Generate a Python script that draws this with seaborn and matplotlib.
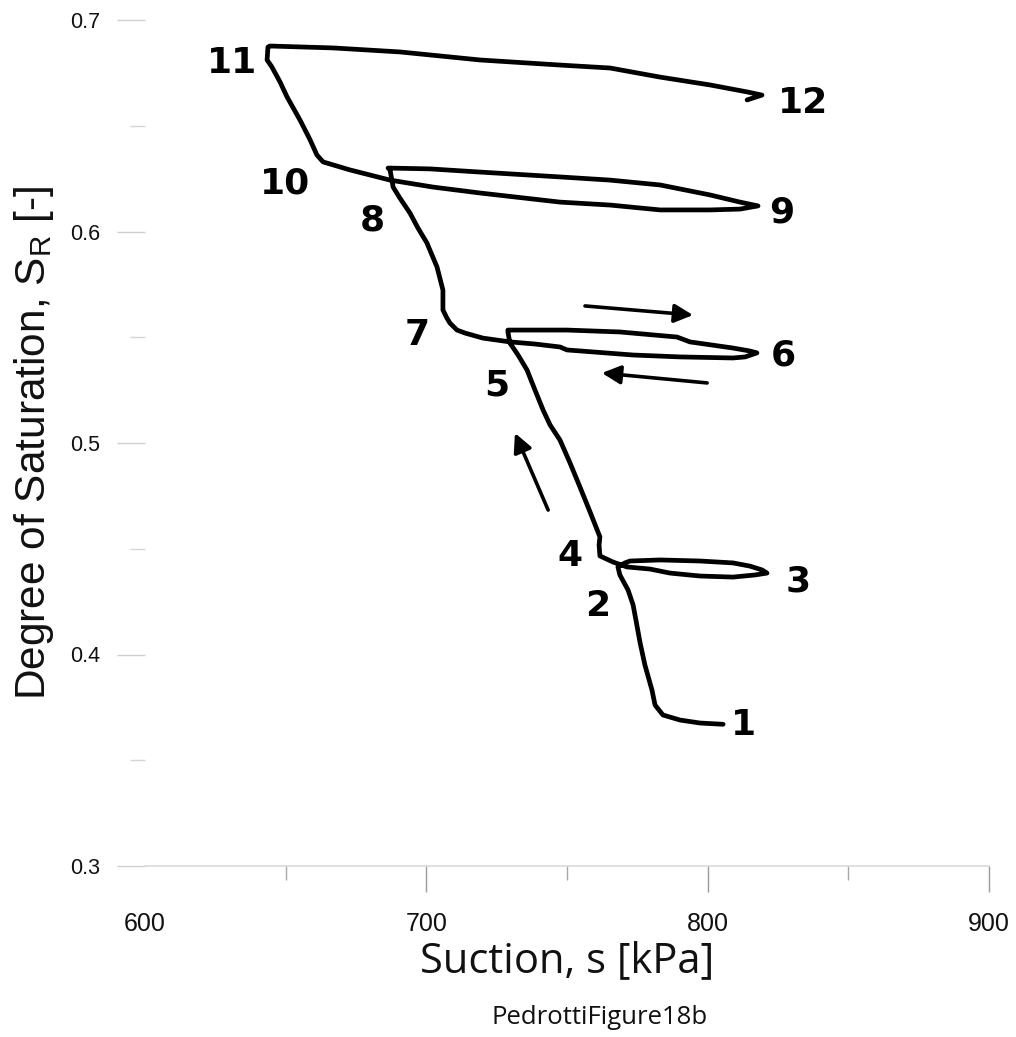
import numpy as np
import pandas as pd
import matplotlib
matplotlib.use("Agg")
import matplotlib.pyplot as plt
from matplotlib.ticker import MultipleLocator
import seaborn as sns

# ---------------- data ----------------
# path 1 -> 2
s_1_2 = [805.5, 797.3, 790.2, 784.1, 781.3, 780.2, 777.7, 776.0, 774.5, 773.5, 771.7, 768.8, 768.1, 770.6]
sr_1_2 = [0.367, 0.3676, 0.369, 0.3714, 0.3761, 0.3832, 0.395, 0.4054, 0.4163, 0.4234, 0.4305, 0.4376, 0.4414, 0.4433]
# loop 2 -> 3 -> 4
s_2_3 = [772.4, 783.1, 797.3, 809.0, 815.0, 819.3, 821.1]
sr_2_3 = [0.4442, 0.4447, 0.4442, 0.4433, 0.4418, 0.4400, 0.4385]
s_3_4 = [816.8, 809.0, 797.3, 786.6, 779.5, 771.3, 766.4, 761.7]
sr_3_4 = [0.4376, 0.4366, 0.4371, 0.4385, 0.4404, 0.4414, 0.4437, 0.4466]
# 4 -> 5
s_4_5 = [761.4, 761.7, 758.2, 754.6, 751.1, 747.5, 744.0, 741.5, 738.6, 735.8, 732.6, 729.7, 729.0]
sr_4_5 = [0.4518, 0.4556, 0.4674, 0.4792, 0.4905, 0.5014, 0.5085, 0.5156, 0.5251, 0.5345, 0.5416, 0.5473, 0.5525]
# loop 5 -> 6 -> 7
s_5_6 = [729.0, 740.4, 750.0, 768.8, 789.1, 793.7, 809.0, 815.0, 817.5]
sr_5_6 = [0.5534, 0.5534, 0.5534, 0.5525, 0.5501, 0.5478, 0.5449, 0.5435, 0.5426]
s_6_7 = [813.3, 809.0, 790.2, 773.5, 750.0, 747.5, 738.6, 729.7, 720.1, 713.7, 710.9, 708.4]
sr_6_7 = [0.5407, 0.5402, 0.5407, 0.5416, 0.5440, 0.5454, 0.5468, 0.5478, 0.5496, 0.5520, 0.5534, 0.5567]
# 7 -> 8
s_7_8 = [707.3, 705.9, 705.9, 703.8, 700.2, 697.0, 694.2, 690.6, 688.2, 687.1]
sr_7_8 = [0.5591, 0.5629, 0.5723, 0.5832, 0.5946, 0.6017, 0.6087, 0.6158, 0.6210, 0.6291]
# loop 8 -> 9 -> 10
s_8_9 = [686.4, 701.3, 719.1, 747.5, 765.3, 783.1, 800.8, 811.5, 817.9]
sr_8_9 = [0.6300, 0.6296, 0.6281, 0.6258, 0.6243, 0.6220, 0.6173, 0.6139, 0.6121]
s_9_10 = [811.5, 800.8, 783.1, 765.3, 747.5, 719.1, 702.4, 687.1, 672.9, 663.3]
sr_9_10 = [0.6106, 0.6102, 0.6102, 0.6125, 0.6139, 0.6182, 0.6210, 0.6243, 0.6291, 0.6329]
# 10 -> 11
s_10_11 = [661.1, 658.7, 655.1, 650.5, 648.0, 645.1, 643.4, 643.7]
sr_10_11 = [0.6362, 0.6433, 0.6527, 0.6636, 0.6707, 0.6778, 0.6811, 0.6872]
# 11 -> 12
s_11_12 = [644.4, 666.8, 690.6, 719.1, 747.5, 765.3, 783.1, 800.8, 814.0, 819.3, 814.0]
sr_11_12 = [0.6877, 0.6868, 0.6849, 0.6811, 0.6787, 0.6773, 0.6730, 0.6693, 0.6660, 0.6645, 0.6622]

# stage labels
stage_labels = ["1", "2", "3", "4", "5", "6", "7", "8", "9", "10", "11", "12"]
stage_s = [812.6, 761.0, 832.1, 751.1, 725.1, 826.8, 696.7, 680.7, 826.4, 649.8, 630.9, 833.9]
stage_sr = [0.3667, 0.4229, 0.4343, 0.4466, 0.5274, 0.5416, 0.5511, 0.6054, 0.6092, 0.6229, 0.6797, 0.6608]

# direction arrows: (start s, start sr, end s, end sr)
arrow_start_s = [756.4, 799.8, 743.3]
arrow_start_sr = [0.5648, 0.5284, 0.4683]
arrow_end_s = [794.8, 762.4, 731.5]
arrow_end_sr = [0.5605, 0.5331, 0.5047]

x_ticks = [600, 700, 800, 900]
y_ticks = [0.3, 0.4, 0.5, 0.6, 0.7]

# ---------------- build table ----------------
s_all = (s_1_2 + s_2_3 + s_3_4 + s_4_5 + s_5_6 + s_6_7 + s_7_8 +
         s_8_9 + s_9_10 + s_10_11 + s_11_12)
sr_all = (sr_1_2 + sr_2_3 + sr_3_4 + sr_4_5 + sr_5_6 + sr_6_7 + sr_7_8 +
          sr_8_9 + sr_9_10 + sr_10_11 + sr_11_12)
df = pd.DataFrame({"suction": s_all, "sat": sr_all})

# ---------------- plot ----------------
sns.set_style("white")
plt.rcParams["font.family"] = ["Liberation Sans", "DejaVu Sans"]

W, H = 1016, 1037
fig = plt.figure(figsize=(W / 100, H / 100), dpi=100)
ax = fig.add_axes([145 / W, (H - 866) / H, 844 / W, 846 / H])

sns.lineplot(data=df, x="suction", y="sat", sort=False, estimator=None,
             color="black", lw=3.4, ax=ax, solid_joinstyle="round",
             solid_capstyle="round")

ax.set_xlim(600, 900)
ax.set_ylim(0.3, 0.7)

for sp in ["top", "right", "left"]:
    ax.spines[sp].set_visible(False)
ax.spines["bottom"].set_color("#d9d9d9")
ax.spines["bottom"].set_linewidth(1.2)

ax.xaxis.set_major_locator(plt.FixedLocator(x_ticks))
ax.xaxis.set_minor_locator(MultipleLocator(50))
ax.yaxis.set_major_locator(plt.FixedLocator(y_ticks))
ax.yaxis.set_minor_locator(MultipleLocator(0.05))
ax.set_xticklabels([str(v) for v in x_ticks])
ax.set_yticklabels([f"{v:.1f}" for v in y_ticks])

ax.tick_params(axis="x", which="both", bottom=True, top=False)
ax.tick_params(axis="y", which="both", left=True, right=False)
ax.tick_params(axis="x", which="major", direction="out", length=19, width=1,
               color="#9a9a9a", labelsize=18, pad=14, labelcolor="#111111")
ax.tick_params(axis="x", which="minor", direction="out", length=10, width=1,
               color="#a8a8a8")
ax.tick_params(axis="y", which="major", direction="out", length=20, width=1,
               color="#cfcfcf", labelsize=15.5, pad=12, labelcolor="#111111")
ax.tick_params(axis="y", which="minor", direction="out", length=11, width=1,
               color="#d5d5d5")
ax.xaxis.get_major_ticks()[0].tick1line.set_visible(False)
ax.yaxis.get_major_ticks()[0].tick1line.set_color("#d9d9d9")

ax.set_xlabel("Suction, s [kPa]", fontsize=30, family=["Open Sans", "DejaVu Sans"],
              color="#111111")
ax.xaxis.set_label_coords(0.5, -0.088)
ax.set_ylabel("Degree of Saturation, S$_\\mathregular{R}$ [-]", fontsize=30.5,
              color="#111111")
ax.yaxis.set_label_coords(-0.106, 0.5)

for lab, xs, ys in zip(stage_labels, stage_s, stage_sr):
    ax.text(xs, ys, lab, fontsize=26, fontweight="bold", ha="center", va="center",
            family=["DejaVu Sans"], color="black")

for x0, y0, x1, y1 in zip(arrow_start_s, arrow_start_sr, arrow_end_s, arrow_end_sr):
    ax.annotate("", xy=(x1, y1), xytext=(x0, y0),
                arrowprops=dict(arrowstyle="-|>", color="black", lw=2.6,
                                mutation_scale=28, shrinkA=0, shrinkB=0))

fig.text(600 / W, 1 - 1017 / H, "PedrottiFigure18b", ha="center", va="center",
         fontsize=18.5, family=["Open Sans", "DejaVu Sans"], color="#111111")

fig.savefig("out.png", dpi=100, facecolor="white")
